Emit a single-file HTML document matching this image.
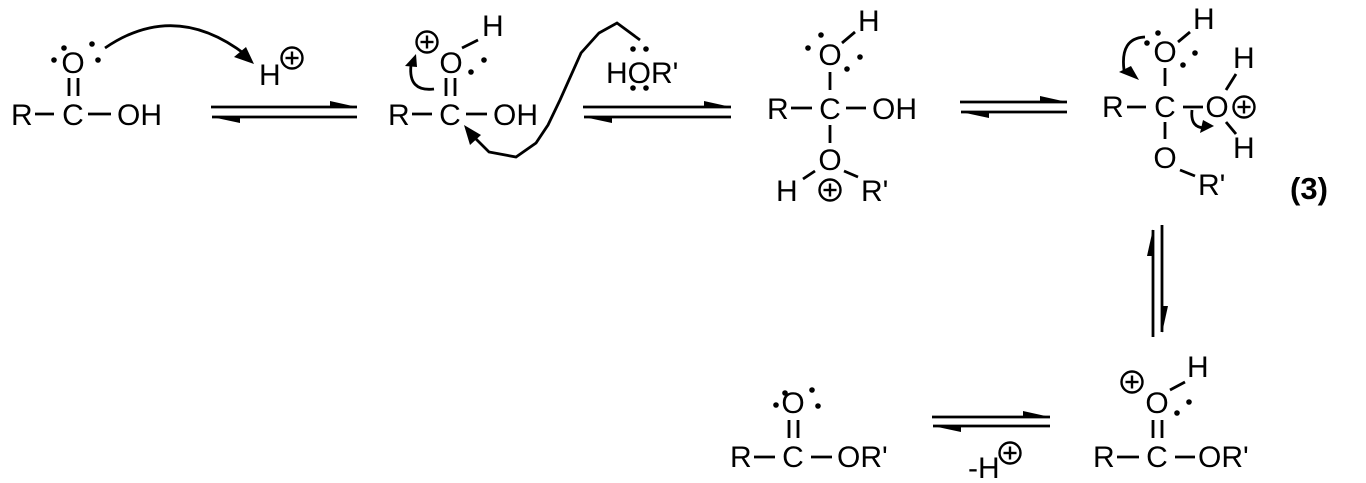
<!DOCTYPE html>
<html><head><meta charset="utf-8"><style>
html,body{margin:0;padding:0;background:#fff;}
svg{display:block;}
text{font-family:"Liberation Sans",sans-serif;font-size:30px;fill:#000;}
.b{stroke:#000;stroke-width:2.8;fill:none;}
.d{fill:#000;}
.p{stroke:#000;stroke-width:2.4;fill:none;}
</style></head><body>
<svg width="1366" height="483" viewBox="0 0 1366 483" xmlns="http://www.w3.org/2000/svg">
<defs>
<g id="plus"><circle cx="0" cy="0" r="10.5" class="p"/><line x1="-6.5" y1="0" x2="6.5" y2="0" class="p"/><line x1="0" y1="-6.5" x2="0" y2="6.5" class="p"/></g>
</defs>

<!-- Structure 1 -->
<text x="11" y="125">R</text>
<line x1="35" y1="114" x2="54" y2="114" class="b"/>
<text x="73" y="125" text-anchor="middle">C</text>
<line x1="88" y1="114" x2="111" y2="114" class="b"/>
<text x="117" y="125">OH</text>
<text x="73" y="73" text-anchor="middle">O</text>
<line x1="69" y1="78" x2="69" y2="96" class="b"/>
<line x1="78" y1="78" x2="78" y2="96" class="b"/>
<circle cx="54" cy="60" r="2.8" class="d"/><circle cx="64" cy="48" r="2.8" class="d"/>
<circle cx="92" cy="44" r="2.8" class="d"/><circle cx="98" cy="60" r="2.8" class="d"/>
<path d="M105,48 Q175,0 246,55" class="b"/>
<polygon points="254,64 234,57 246,47" class="d"/>
<text x="259" y="85">H</text>
<use href="#plus" x="292" y="58"/>

<!-- Eq arrow 1 -->
<line x1="211" y1="107" x2="357" y2="107" class="b"/>
<polygon points="357,107 330,101 330,107" class="d"/>
<line x1="212" y1="117" x2="357" y2="117" class="b"/>
<polygon points="212,117 240,123 240,117" class="d"/>

<!-- Structure 2 -->
<text x="388" y="125">R</text>
<line x1="412" y1="114" x2="432" y2="114" class="b"/>
<text x="450" y="125" text-anchor="middle">C</text>
<line x1="466" y1="114" x2="487" y2="114" class="b"/>
<text x="493" y="125">OH</text>
<text x="451" y="73" text-anchor="middle">O</text>
<line x1="446" y1="78" x2="446" y2="96" class="b"/>
<line x1="455" y1="78" x2="455" y2="96" class="b"/>
<line x1="462" y1="48" x2="478" y2="40" class="b"/>
<text x="482" y="36">H</text>
<use href="#plus" x="427" y="42"/>
<circle cx="484" cy="60" r="2.8" class="d"/><circle cx="471" cy="72" r="2.8" class="d"/>
<path d="M434,89 Q408,92 411,65" class="b"/>
<polygon points="416,54 405,66 417,67" class="d"/>
<path d="M640,40 L617,23 L599,33 L581,53 L560,100 L548,125 L536,143 L516,157 L489,152 L474,137" class="b"/>
<polygon points="464,125 470,145 481,135" class="d"/>

<!-- HOR' -->
<text x="606" y="83">HOR'</text>
<circle cx="633" cy="49" r="2.8" class="d"/><circle cx="646" cy="49" r="2.8" class="d"/>
<circle cx="633" cy="88" r="2.8" class="d"/><circle cx="646" cy="88" r="2.8" class="d"/>

<!-- Eq arrow 2 -->
<line x1="583" y1="107" x2="731" y2="107" class="b"/>
<polygon points="731,107 704,101 704,107" class="d"/>
<line x1="584" y1="117" x2="731" y2="117" class="b"/>
<polygon points="584,117 612,123 612,117" class="d"/>

<!-- Structure 3 -->
<text x="767" y="119">R</text>
<line x1="791" y1="108" x2="812" y2="108" class="b"/>
<text x="830" y="119" text-anchor="middle">C</text>
<line x1="846" y1="108" x2="866" y2="108" class="b"/>
<text x="872" y="119">OH</text>
<text x="830" y="65" text-anchor="middle">O</text>
<line x1="842" y1="43" x2="855" y2="32" class="b"/>
<text x="858" y="31">H</text>
<circle cx="821" cy="35" r="2.8" class="d"/><circle cx="808" cy="48" r="2.8" class="d"/>
<circle cx="860" cy="57" r="2.8" class="d"/><circle cx="847" cy="69" r="2.8" class="d"/>
<line x1="830" y1="72" x2="830" y2="90" class="b"/>
<line x1="830" y1="125" x2="830" y2="143" class="b"/>
<text x="830" y="170" text-anchor="middle">O</text>
<line x1="803" y1="179" x2="815" y2="171" class="b"/>
<line x1="844" y1="171" x2="858" y2="177" class="b"/>
<text x="776" y="201">H</text>
<use href="#plus" x="830" y="190"/>
<text x="861" y="201">R'</text>

<!-- Eq arrow 3 -->
<line x1="960" y1="102" x2="1067" y2="102" class="b"/>
<polygon points="1067,102 1040,96 1040,102" class="d"/>
<line x1="961" y1="112" x2="1067" y2="112" class="b"/>
<polygon points="961,112 989,118 989,112" class="d"/>

<!-- Structure 4 -->
<text x="1102" y="117">R</text>
<line x1="1127" y1="107" x2="1146" y2="107" class="b"/>
<text x="1165" y="117" text-anchor="middle">C</text>
<line x1="1183" y1="107" x2="1203" y2="107" class="b"/>
<text x="1165" y="62" text-anchor="middle">O</text>
<line x1="1178" y1="42" x2="1190" y2="32" class="b"/>
<text x="1193" y="29">H</text>
<circle cx="1158" cy="33" r="2.8" class="d"/><circle cx="1147" cy="43" r="2.8" class="d"/>
<circle cx="1195" cy="53" r="2.8" class="d"/><circle cx="1183" cy="65" r="2.8" class="d"/>
<line x1="1165" y1="68" x2="1165" y2="86" class="b"/>
<line x1="1165" y1="122" x2="1165" y2="139" class="b"/>
<text x="1217" y="117" text-anchor="middle">O</text>
<use href="#plus" x="1244" y="107"/>
<line x1="1226" y1="90" x2="1236" y2="74" class="b"/>
<text x="1233" y="68">H</text>
<line x1="1226" y1="122" x2="1236" y2="134" class="b"/>
<text x="1233" y="158">H</text>
<text x="1165" y="168" text-anchor="middle">O</text>
<line x1="1180" y1="170" x2="1195" y2="176" class="b"/>
<text x="1198" y="195">R'</text>
<path d="M1145,37 Q1120,38 1124,70" class="b"/>
<polygon points="1139,80 1119,72 1131,66" class="d"/>
<path d="M1192,110 Q1190,128 1205,128" class="b"/>
<polygon points="1214,126 1200,133 1203,120" class="d"/>
<text x="1290" y="199" style="font-weight:bold;font-size:31px">(3)</text>

<!-- Vertical eq arrow -->
<line x1="1153" y1="230" x2="1153" y2="337" class="b"/>
<polygon points="1153,229 1147,256 1153,256" class="d"/>
<line x1="1162" y1="225" x2="1162" y2="332" class="b"/>
<polygon points="1162,333 1168,306 1162,306" class="d"/>

<!-- Bottom right structure -->
<text x="1093" y="467">R</text>
<line x1="1117" y1="457" x2="1139" y2="457" class="b"/>
<text x="1157" y="467" text-anchor="middle">C</text>
<line x1="1175" y1="457" x2="1195" y2="457" class="b"/>
<text x="1198" y="467">OR'</text>
<text x="1157" y="413" text-anchor="middle">O</text>
<line x1="1153" y1="420" x2="1153" y2="438" class="b"/>
<line x1="1162" y1="420" x2="1162" y2="438" class="b"/>
<use href="#plus" x="1132" y="382"/>
<line x1="1170" y1="390" x2="1185" y2="382" class="b"/>
<text x="1187" y="377">H</text>
<circle cx="1189" cy="402" r="2.8" class="d"/><circle cx="1177" cy="413" r="2.8" class="d"/>

<!-- Bottom eq arrow -->
<line x1="932" y1="417" x2="1050" y2="417" class="b"/>
<polygon points="1050,417 1023,411 1023,417" class="d"/>
<line x1="933" y1="426" x2="1050" y2="426" class="b"/>
<polygon points="933,426 961,432 961,426" class="d"/>
<text x="968" y="478">-H</text>
<use href="#plus" x="1010" y="453"/>

<!-- Bottom left structure -->
<text x="730" y="467">R</text>
<line x1="754" y1="457" x2="775" y2="457" class="b"/>
<text x="793" y="467" text-anchor="middle">C</text>
<line x1="811" y1="457" x2="832" y2="457" class="b"/>
<text x="837" y="467">OR'</text>
<text x="793" y="413" text-anchor="middle">O</text>
<line x1="789" y1="420" x2="789" y2="438" class="b"/>
<line x1="798" y1="420" x2="798" y2="438" class="b"/>
<circle cx="776" cy="405" r="2.8" class="d"/><circle cx="785" cy="393" r="2.8" class="d"/>
<circle cx="812" cy="390" r="2.8" class="d"/><circle cx="818" cy="406" r="2.8" class="d"/>
</svg>
</body></html>
